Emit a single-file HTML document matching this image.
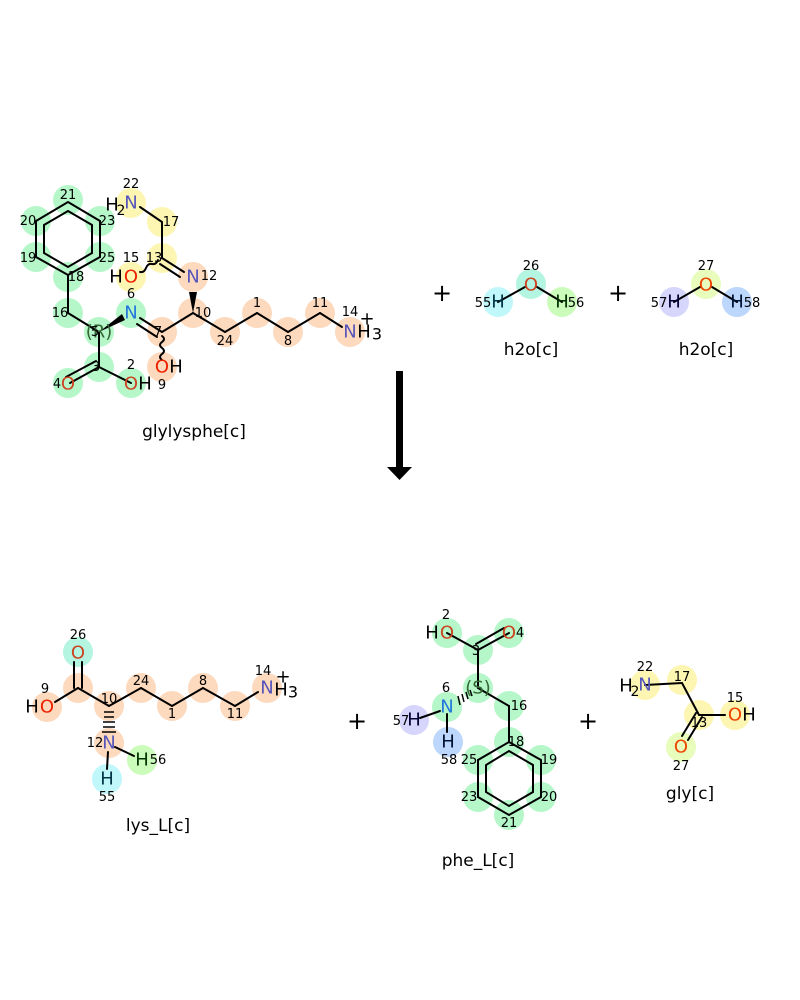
<!DOCTYPE html>
<html><head><meta charset="utf-8"><style>
html,body{margin:0;padding:0;background:#fff;}
svg{display:block;font-family:"DejaVu Sans","Liberation Sans",sans-serif;}
.b{stroke:#000;stroke-width:2;fill:none;stroke-linecap:round}
.n{font-size:13px;fill:#000;text-anchor:middle}
.e{font-size:18px;text-anchor:middle;dominant-baseline:central}
.lab{font-size:17px;text-anchor:middle;fill:#000}
circle{r:15px}
</style></head><body>
<svg width="800" height="1000" viewBox="0 0 800 1000">
<g fill="#b5f7c9">
<circle cx="68" cy="200" r="15"/><circle cx="36" cy="221" r="15"/><circle cx="100" cy="221" r="15"/>
<circle cx="36" cy="257" r="15"/><circle cx="100" cy="257" r="15"/><circle cx="68" cy="277" r="15"/>
<circle cx="68" cy="313" r="15"/><circle cx="99" cy="332" r="15"/><circle cx="99" cy="367" r="15"/>
<circle cx="68" cy="383" r="15"/><circle cx="131" cy="383" r="15"/><circle cx="131" cy="313" r="15"/>
<circle cx="447" cy="633" r="15"/><circle cx="509" cy="633" r="15"/><circle cx="478" cy="650" r="15"/>
<circle cx="478" cy="688" r="15"/><circle cx="447" cy="707" r="15"/><circle cx="509" cy="706" r="15"/>
<circle cx="509" cy="742" r="15"/><circle cx="541" cy="760" r="15"/><circle cx="541" cy="797" r="15"/>
<circle cx="509" cy="815" r="15"/><circle cx="478" cy="797" r="15"/><circle cx="478" cy="760" r="15"/>
</g>
<g fill="#fdd9bd">
<circle cx="193" cy="277" r="15"/><circle cx="162" cy="332" r="15"/><circle cx="162" cy="367" r="15"/>
<circle cx="193" cy="313" r="15"/><circle cx="225" cy="332" r="15"/><circle cx="257" cy="313" r="15"/>
<circle cx="288" cy="332" r="15"/><circle cx="320" cy="313" r="15"/><circle cx="350" cy="332" r="15"/>
<circle cx="78" cy="688" r="15"/><circle cx="47" cy="707" r="15"/><circle cx="109" cy="706" r="15"/>
<circle cx="141" cy="688" r="15"/><circle cx="172" cy="706" r="15"/><circle cx="203" cy="688" r="15"/>
<circle cx="235" cy="706" r="15"/><circle cx="267" cy="688" r="15"/><circle cx="109" cy="743" r="15"/>
</g>
<g fill="#fdf6b3">
<circle cx="131" cy="203" r="15"/><circle cx="162" cy="222" r="15"/><circle cx="162" cy="258" r="15"/><circle cx="131" cy="277" r="15"/>
<circle cx="645" cy="685" r="15"/><circle cx="682" cy="680" r="15"/><circle cx="699" cy="715" r="15"/><circle cx="735" cy="715" r="15"/>
</g>
<circle cx="498" cy="302" r="15" fill="#c0f7fb"/><circle cx="531" cy="284" r="15" fill="#b3f5e1"/><circle cx="562" cy="302" r="15" fill="#ccfcbb"/>
<circle cx="674" cy="302" r="15" fill="#d6d6fc"/><circle cx="706" cy="284" r="15" fill="#e8fcbc"/><circle cx="737" cy="302" r="15" fill="#bcd6fc"/>
<circle cx="78" cy="652" r="15" fill="#b3f5e1"/><circle cx="142" cy="760" r="15" fill="#ccfcbb"/><circle cx="107" cy="779" r="15" fill="#c0f7fb"/>
<circle cx="414" cy="720" r="15" fill="#d6d6fc"/><circle cx="448" cy="742" r="15" fill="#bcd6fc"/>
<circle cx="681" cy="747" r="15" fill="#e8fcbc"/>

<g class="b">
<polygon points="68,202 100,221 100,257 68,275 36,257 36,221"/>
<polygon points="68,211 92,225 92,253 68,267 44,253 44,225"/>
<line x1="68" y1="275" x2="68" y2="313"/><line x1="68" y1="313" x2="99" y2="332"/>
<line x1="99" y1="332" x2="99" y2="367"/><line x1="99" y1="367" x2="131" y2="383"/>
<line x1="99" y1="367" x2="70" y2="383"/><line x1="96" y1="361" x2="66" y2="377"/>
<line x1="140" y1="318" x2="162" y2="332"/><line x1="137" y1="324" x2="157" y2="337"/>
<line x1="162" y1="332" x2="193" y2="313"/>
<path d="M162,336 q4,3 0,6 q-4,3 0,6 q4,3 0,6 q-4,3 0,6"/>
<line x1="193" y1="313" x2="225" y2="332"/><line x1="225" y1="332" x2="257" y2="313"/>
<line x1="257" y1="313" x2="288" y2="332"/><line x1="288" y1="332" x2="320" y2="313"/>
<line x1="320" y1="313" x2="342" y2="327"/>
<line x1="162" y1="258" x2="184" y2="272"/><line x1="160" y1="264" x2="180" y2="277"/>
<line x1="162" y1="258" x2="162" y2="222"/><line x1="162" y1="222" x2="140" y2="207"/>
<path d="M158,260 q-2,5 -6,4 q-4,-1 -6,4 q-2,5 -6,4"/>
<line x1="498" y1="302" x2="525" y2="287"/><line x1="537" y1="287" x2="562" y2="302"/>
<line x1="674" y1="302" x2="700" y2="287"/><line x1="712" y1="287" x2="737" y2="302"/>
</g>
<polygon points="193,313 189,292 197,292" fill="#000"/>
<polygon points="99,332 122,314 125,320" fill="#000"/>

<g class="b">
<line x1="74" y1="688" x2="74" y2="662"/><line x1="82" y1="688" x2="82" y2="662"/>
<line x1="78" y1="688" x2="55" y2="702"/><line x1="78" y1="688" x2="109" y2="706"/>
<line x1="109" y1="706" x2="141" y2="688"/><line x1="141" y1="688" x2="172" y2="706"/>
<line x1="172" y1="706" x2="203" y2="688"/><line x1="203" y1="688" x2="235" y2="706"/>
<line x1="235" y1="706" x2="258" y2="692"/>
<line x1="115" y1="747" x2="134" y2="756"/><line x1="108" y1="752" x2="107" y2="769"/>
</g>
<g stroke="#000" stroke-width="1.5"><line x1="104" y1="712" x2="114" y2="712"/><line x1="104" y1="717" x2="114" y2="717"/><line x1="103" y1="722" x2="115" y2="722"/><line x1="103" y1="727" x2="115" y2="727"/><line x1="102" y1="732" x2="116" y2="732"/></g>

<g class="b">
<line x1="447" y1="633" x2="478" y2="650"/><line x1="478" y1="650" x2="509" y2="633"/><line x1="476" y1="644" x2="504" y2="628"/>
<line x1="478" y1="650" x2="478" y2="688"/><line x1="478" y1="688" x2="509" y2="706"/><line x1="509" y1="706" x2="509" y2="742"/>
<polygon points="509,742 541,760 541,797 509,815 478,797 478,760"/>
<polygon points="509,751 533,765 533,792 509,806 486,792 486,765"/>
<line x1="440" y1="711" x2="420" y2="718"/><line x1="447" y1="714" x2="447" y2="732"/>
<line x1="645" y1="685" x2="682" y2="683"/><line x1="682" y1="683" x2="699" y2="715"/>
<line x1="699" y1="715" x2="725" y2="715"/><line x1="696" y1="713" x2="682" y2="736"/><line x1="702" y1="717" x2="688" y2="740"/>
</g>
<g stroke="#000" stroke-width="1.5"><line x1="470" y1="690" x2="472" y2="696"/><line x1="466" y1="692" x2="468" y2="699"/><line x1="462" y1="694" x2="464" y2="702"/><line x1="458" y1="696" x2="460" y2="705"/></g>

<rect x="396" y="371" width="7" height="98" fill="#000"/>
<polygon points="387,467 412,467 399.5,480" fill="#000"/>

<g class="e">
<text x="131" y="203" fill="#5555bb">N</text><text x="112" y="205" fill="#000">H</text><text x="121" y="211" font-size="14" fill="#000">2</text>
<text x="131" y="277" fill="#ee2200">O</text><text x="116" y="277" fill="#000">H</text>
<text x="193" y="277" fill="#5555bb">N</text>
<text x="131" y="313" fill="#2277dd">N</text>
<text x="68" y="384" fill="#cc4422">O</text><text x="131" y="384" fill="#cc4422">O</text><text x="145" y="384" fill="#000">H</text>
<text x="162" y="367" fill="#ee2200">O</text><text x="176" y="367" fill="#000">H</text>
<text x="350" y="332" fill="#5555bb">N</text><text x="364" y="332" fill="#000">H</text><text x="377" y="334" font-size="16" fill="#000">3</text>
<text x="367" y="319" fill="#000">+</text>
<text x="498" y="302" fill="#003344">H</text><text x="531" y="285" fill="#cc4422">O</text><text x="562" y="302" fill="#003300">H</text>
<text x="674" y="302" fill="#000033">H</text><text x="706" y="285" fill="#ee4400">O</text><text x="737" y="302" fill="#001133">H</text>
<text x="78" y="653" fill="#cc4422">O</text><text x="47" y="707" fill="#ee2200">O</text><text x="32" y="707" fill="#000">H</text>
<text x="267" y="688" fill="#5555bb">N</text><text x="281" y="690" fill="#000">H</text><text x="293" y="692" font-size="16" fill="#000">3</text><text x="283" y="677" fill="#000">+</text>
<text x="109" y="743" fill="#5555bb">N</text><text x="142" y="760" fill="#003300">H</text><text x="107" y="779" fill="#003344">H</text>
<text x="447" y="633" fill="#cc4422">O</text><text x="432" y="633" fill="#000">H</text><text x="509" y="633" fill="#cc4422">O</text>
<text x="447" y="707" fill="#2277dd">N</text><text x="414" y="720" fill="#000033">H</text><text x="448" y="742" fill="#001133">H</text>
<text x="645" y="685" fill="#5555bb">N</text><text x="626" y="686" fill="#000">H</text><text x="635" y="692" font-size="14" fill="#000">2</text>
<text x="735" y="715" fill="#ee4400">O</text><text x="749" y="715" fill="#000">H</text><text x="681" y="747" fill="#ee4400">O</text>
<text x="442" y="293" fill="#000" font-size="24">+</text><text x="618" y="293" fill="#000" font-size="24">+</text>
<text x="357" y="721" fill="#000" font-size="24">+</text><text x="588" y="721" fill="#000" font-size="24">+</text>
</g>
<g class="e" font-size="15" fill="#336633"><text x="99" y="332">(R)</text><text x="478" y="688">(S)</text></g>

<g class="n">
<text x="68" y="199">21</text><text x="28" y="225">20</text><text x="107" y="225">23</text><text x="28" y="262">19</text><text x="107" y="262">25</text><text x="76" y="281">18</text>
<text x="60" y="317">16</text><text x="95" y="336">5</text><text x="96" y="371">3</text><text x="57" y="388">4</text><text x="131" y="369">2</text>
<text x="131" y="298">6</text><text x="158" y="336">7</text><text x="162" y="389">9</text><text x="203" y="317">10</text>
<text x="225" y="345">24</text><text x="257" y="307">1</text><text x="288" y="345">8</text><text x="320" y="307">11</text><text x="350" y="316">14</text>
<text x="131" y="188">22</text><text x="171" y="226">17</text><text x="131" y="262">15</text><text x="154" y="262">13</text><text x="209" y="280">12</text>
<text x="531" y="270">26</text><text x="483" y="307">55</text><text x="576" y="307">56</text>
<text x="706" y="270">27</text><text x="659" y="307">57</text><text x="752" y="307">58</text>
<text x="78" y="639">26</text><text x="45" y="693">9</text><text x="109" y="703">10</text><text x="141" y="685">24</text><text x="172" y="718">1</text>
<text x="203" y="685">8</text><text x="235" y="718">11</text><text x="263" y="675">14</text><text x="95" y="747">12</text><text x="158" y="764">56</text><text x="107" y="801">55</text>
<text x="446" y="619">2</text><text x="520" y="637">4</text><text x="476" y="655">3</text><text x="446" y="692">6</text><text x="401" y="725">57</text><text x="449" y="764">58</text>
<text x="519" y="710">16</text><text x="516" y="746">18</text><text x="549" y="764">19</text><text x="549" y="801">20</text><text x="509" y="827">21</text><text x="469" y="801">23</text><text x="469" y="764">25</text>
<text x="645" y="671">22</text><text x="682" y="681">17</text><text x="699" y="727">13</text><text x="735" y="702">15</text><text x="681" y="770">27</text>
</g>

<g class="lab">
<text x="194" y="437">glylysphe[c]</text>
<text x="531" y="355">h2o[c]</text><text x="706" y="355">h2o[c]</text>
<text x="158" y="831">lys_L[c]</text><text x="478" y="866">phe_L[c]</text><text x="690" y="799">gly[c]</text>
</g>
</svg>
</body></html>
